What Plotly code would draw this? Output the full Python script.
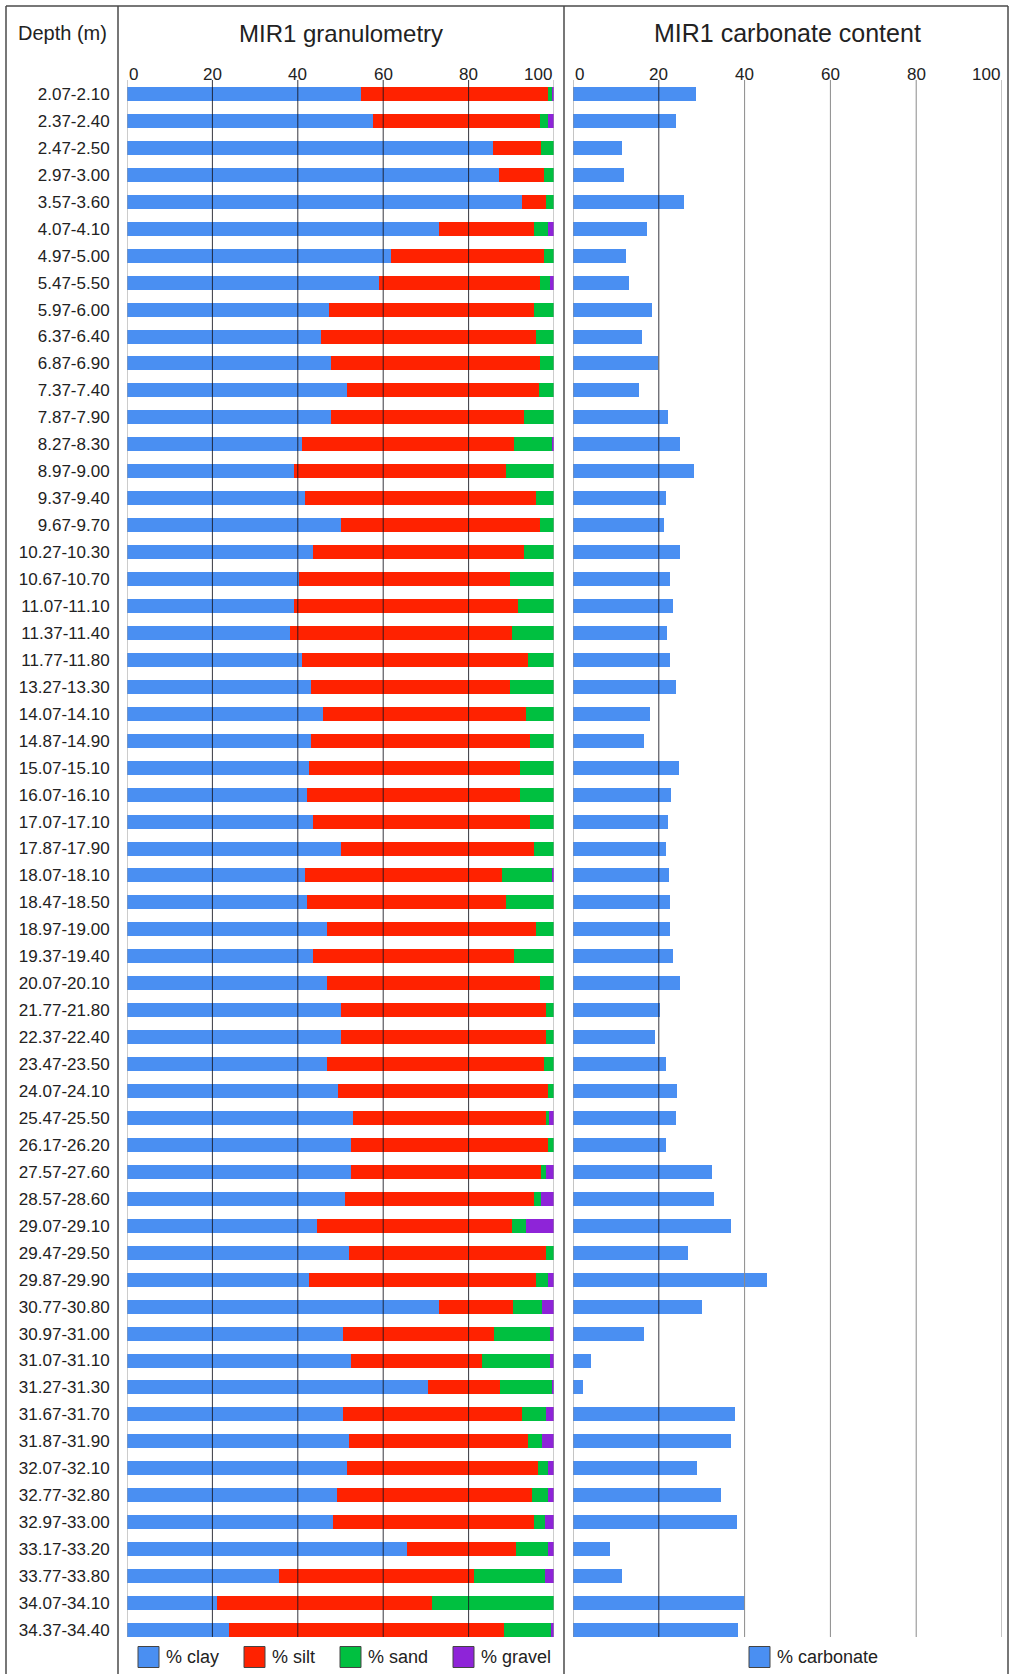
import plotly.graph_objects as go

depths = ["2.07-2.10", "2.37-2.40", "2.47-2.50", "2.97-3.00", "3.57-3.60", "4.07-4.10",
          "4.97-5.00", "5.47-5.50", "5.97-6.00", "6.37-6.40", "6.87-6.90", "7.37-7.40",
          "7.87-7.90", "8.27-8.30", "8.97-9.00", "9.37-9.40", "9.67-9.70", "10.27-10.30",
          "10.67-10.70", "11.07-11.10", "11.37-11.40", "11.77-11.80", "13.27-13.30",
          "14.07-14.10", "14.87-14.90", "15.07-15.10", "16.07-16.10", "17.07-17.10",
          "17.87-17.90", "18.07-18.10", "18.47-18.50", "18.97-19.00", "19.37-19.40",
          "20.07-20.10", "21.77-21.80", "22.37-22.40", "23.47-23.50", "24.07-24.10",
          "25.47-25.50", "26.17-26.20", "27.57-27.60", "28.57-28.60", "29.07-29.10",
          "29.47-29.50", "29.87-29.90", "30.77-30.80", "30.97-31.00", "31.07-31.10",
          "31.27-31.30", "31.67-31.70", "31.87-31.90", "32.07-32.10", "32.77-32.80",
          "32.97-33.00", "33.17-33.20", "33.77-33.80", "34.07-34.10", "34.37-34.40"]

clay = [54.8, 57.5, 85.6, 87.1, 92.6, 73.0, 61.8, 58.9, 47.3, 45.4, 47.8, 51.6, 47.8, 40.9,
        39.0, 41.7, 50.0, 43.5, 40.3, 39.0, 38.2, 40.9, 43.1, 45.9, 43.1, 42.6, 42.2, 43.5,
        50.0, 41.7, 42.2, 46.8, 43.5, 46.8, 50.0, 50.0, 46.8, 49.3, 52.9, 52.5, 52.5, 51.0,
        44.6, 52.0, 42.6, 73.0, 50.5, 52.5, 70.6, 50.5, 52.0, 51.6, 49.2, 48.2, 65.5, 35.6,
        21.0, 23.8]
silt = [43.9, 39.2, 11.4, 10.6, 5.6, 22.2, 35.9, 37.8, 47.9, 50.4, 48.9, 45.0, 45.2, 49.8,
        49.8, 54.2, 46.7, 49.5, 49.5, 52.6, 52.0, 53.0, 46.7, 47.6, 51.3, 49.4, 49.8, 50.8,
        45.2, 46.2, 46.6, 49.0, 47.2, 49.9, 48.2, 48.2, 50.9, 49.3, 45.3, 46.1, 44.4, 44.2,
        45.6, 46.2, 53.2, 17.3, 35.5, 30.7, 16.7, 42.1, 41.9, 44.7, 45.6, 47.2, 25.6, 45.7,
        50.5, 64.6]
sand = [1.0, 2.0, 3.0, 2.3, 1.8, 3.5, 2.3, 2.4, 4.8, 4.2, 3.3, 3.4, 7.0, 9.0,
        11.2, 4.1, 3.3, 7.0, 10.2, 8.4, 9.8, 6.1, 10.2, 6.5, 5.6, 8.0, 8.0, 5.7,
        4.8, 11.8, 11.2, 4.2, 9.3, 3.3, 1.8, 1.8, 2.3, 1.4, 0.7, 1.4, 1.3, 1.7,
        3.3, 1.8, 2.9, 7.0, 13.1, 15.9, 12.4, 5.6, 3.4, 2.4, 3.9, 2.4, 7.6, 16.5,
        28.5, 10.9]
gravel = [0.3, 1.3, 0.0, 0.0, 0.0, 1.3, 0.0, 0.9, 0.0, 0.0, 0.0, 0.0, 0.0, 0.3,
          0.0, 0.0, 0.0, 0.0, 0.0, 0.0, 0.0, 0.0, 0.0, 0.0, 0.0, 0.0, 0.0, 0.0,
          0.0, 0.3, 0.0, 0.0, 0.0, 0.0, 0.0, 0.0, 0.0, 0.0, 1.1, 0.0, 1.8, 3.1,
          6.5, 0.0, 1.3, 2.7, 0.9, 0.9, 0.3, 1.8, 2.7, 1.3, 1.3, 2.2, 1.3, 2.2,
          0.0, 0.7]
carbonate = [28.6, 24.1, 11.5, 11.8, 25.8, 17.3, 12.4, 13.1, 18.5, 16.1, 19.9, 15.4, 22.2,
             25.0, 28.1, 21.6, 21.3, 25.0, 22.6, 23.4, 22.0, 22.5, 24.0, 17.9, 16.5, 24.8,
             22.9, 22.2, 21.7, 22.4, 22.6, 22.6, 23.2, 25.0, 20.2, 19.1, 21.6, 24.2, 24.1,
             21.7, 32.5, 32.8, 36.8, 26.9, 45.2, 30.0, 16.6, 4.1, 2.4, 37.8, 36.8, 28.9,
             34.4, 38.2, 8.6, 11.4, 40.0, 38.4]

tick_vals = [0, 20, 40, 60, 80, 100]
gran_series = ["% clay", "% silt", "% sand", "% gravel"]
carb_series = ["% carbonate"]

# ---------------- styling / layout ----------------
W, H = 1011, 1674
FONT = "Liberation Sans, Arial, sans-serif"
BLUE, RED, GREEN, PURPLE = "#4A8FF2", "#FF2200", "#00C040", "#8E24D8"
colors = [BLUE, RED, GREEN, PURPLE]


def X(px):
    return px / W


def Y(py):
    return 1 - py / H


PLOT_TOP, PLOT_BOT = 80, 1637
GRAN_L, GRAN_R = 127, 554
CARB_L, CARB_R = 573, 1002
BAR_W = 0.52
n = len(depths)
yrange = [n - 1 + 0.26, -0.52]

fig = go.Figure()
for name, vals, col in zip(gran_series, [clay, silt, sand, gravel], colors):
    fig.add_trace(go.Bar(y=depths, x=vals, name=name, orientation="h",
                         marker=dict(color=col, line=dict(width=0)), width=BAR_W,
                         xaxis="x", yaxis="y", showlegend=False))
fig.add_trace(go.Bar(y=depths, x=carbonate, name=carb_series[0], orientation="h",
                     marker=dict(color=BLUE, line=dict(width=0)), width=BAR_W,
                     xaxis="x2", yaxis="y2", showlegend=False))

ydom = [Y(PLOT_BOT), Y(PLOT_TOP)]
fig.update_layout(
    width=W, height=H, margin=dict(l=0, r=0, t=0, b=0, autoexpand=False),
    paper_bgcolor="white", plot_bgcolor="white", barmode="stack",
    font=dict(family=FONT, color="#222"),
    xaxis=dict(domain=[X(GRAN_L), X(GRAN_R)], range=[0, 100], showgrid=False,
               showticklabels=False, zeroline=False, showline=False, fixedrange=True,
               automargin=False),
    xaxis2=dict(domain=[X(CARB_L), X(CARB_R)], range=[0, 100], showgrid=False,
                showticklabels=False, zeroline=False, showline=False, fixedrange=True,
                anchor="y2", automargin=False),
    yaxis=dict(domain=ydom, type="category", categoryorder="array", categoryarray=depths,
               range=yrange, showgrid=False, zeroline=False, showline=False,
               ticks="outside", ticklen=13, tickcolor="rgba(0,0,0,0)",
               tickfont=dict(family=FONT, size=17, color="#222"), fixedrange=True,
               automargin=False),
    yaxis2=dict(domain=ydom, type="category", categoryorder="array", categoryarray=depths,
                range=yrange, showgrid=False, zeroline=False, showline=False,
                showticklabels=False, anchor="x2", fixedrange=True, automargin=False),
    bargap=0.48,
)

shapes = []
ann = []
# grid lines (drawn above bars)
for t in tick_vals:
    dark = t not in (0, 100)
    shapes.append(dict(type="line", xref="x", yref="y domain", x0=t, x1=t, y0=0, y1=1,
                       line=dict(color="rgba(20,20,30,0.85)" if dark else "#9a9a9a", width=1),
                       layer="above"))
    shapes.append(dict(type="line", xref="x2", yref="y2 domain", x0=t, x1=t, y0=0, y1=1,
                       line=dict(color="rgba(20,20,30,0.85)" if t == 20 else "#8a8a8a", width=1),
                       layer="above"))
    anchor = "left" if t == 0 else ("right" if t == 100 else "center")
    for xr in ("x", "x2"):
        ann.append(dict(x=t, xref=xr, y=Y(PLOT_TOP + 6), yref="paper", text=str(t),
                        showarrow=False, xanchor=anchor, yanchor="bottom",
                        font=dict(family=FONT, size=17, color="#222")))

# frame lines
frame = "#4a4a4a"
for x in (6, 118, 564, 1008):
    shapes.append(dict(type="line", xref="paper", yref="paper", x0=X(x), x1=X(x),
                       y0=Y(6), y1=0, line=dict(color=frame, width=1.5)))
shapes.append(dict(type="line", xref="paper", yref="paper", x0=X(6), x1=X(1008),
                   y0=Y(6), y1=Y(6), line=dict(color=frame, width=1.5)))

# titles
ann.append(dict(x=X(62), y=Y(33), xref="paper", yref="paper", text="Depth (m)",
                showarrow=False, xanchor="center", yanchor="middle",
                font=dict(family=FONT, size=20, color="#222")))
ann.append(dict(x=X((GRAN_L + GRAN_R) / 2), y=Y(33), xref="paper", yref="paper",
                text="MIR1 granulometry", showarrow=False, xanchor="center", yanchor="middle",
                font=dict(family=FONT, size=24, color="#222")))
ann.append(dict(x=X((CARB_L + CARB_R) / 2), y=Y(33), xref="paper", yref="paper",
                text="MIR1 carbonate content", showarrow=False, xanchor="center",
                yanchor="middle", font=dict(family=FONT, size=25, color="#222")))

# manual legend
LEG_Y = 1657
leg_items = [(gran_series[0], BLUE, 138), (gran_series[1], RED, 244),
             (gran_series[2], GREEN, 340), (gran_series[3], PURPLE, 453),
             (carb_series[0], BLUE, 749)]
for label, col, x0 in leg_items:
    shapes.append(dict(type="rect", xref="paper", yref="paper", x0=X(x0), x1=X(x0 + 21),
                       y0=Y(LEG_Y + 10.5), y1=Y(LEG_Y - 10.5), fillcolor=col,
                       line=dict(color="#444", width=1)))
    ann.append(dict(x=X(x0 + 26), y=Y(LEG_Y), xref="paper", yref="paper", text=label,
                    showarrow=False, xanchor="left", yanchor="middle",
                    font=dict(family=FONT, size=18, color="#222")))

fig.update_layout(shapes=shapes, annotations=ann)
fig.write_html("out.html", config={"displayModeBar": False},
               post_script="document.body.style.margin='0';"
                           "document.body.style.overflow='hidden';")
